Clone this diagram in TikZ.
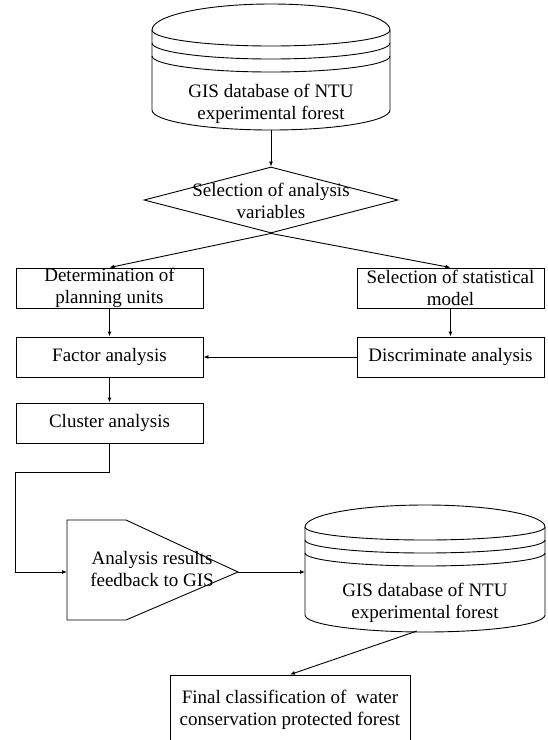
\documentclass[tikz,border=0pt]{standalone}
\usepackage{fontspec}
\setmainfont{Liberation Serif}
\usetikzlibrary{arrows.meta,shapes.geometric}

\begin{document}
\begin{tikzpicture}[x=1pt, y=-1pt, line width=0.9pt,
    font=\fontsize{19pt}{22pt}\selectfont,
    >={Latex[length=5pt,width=4pt]},
    stagebox/.style={draw, minimum width=187pt, minimum height=40pt, inner sep=0pt, align=center},
    txt/.style={align=center, inner sep=0pt}]
    \useasboundingbox (0,0) rectangle (548,740);

    % upper database
    \draw (152,30) arc[start angle=180, end angle=0, x radius=119pt, y radius=26pt] -- (390,110)
        arc[start angle=0, end angle=-180, x radius=119pt, y radius=20pt] -- cycle;
    \draw (152,30) arc[start angle=180, end angle=360, x radius=119pt, y radius=16pt];
    \draw (152,43) arc[start angle=180, end angle=360, x radius=119pt, y radius=16pt];
    \draw (152,56) arc[start angle=180, end angle=360, x radius=119pt, y radius=16pt];
    \node[txt] (gisA) at (271,104) {GIS database of NTU\\experimental forest};
    \coordinate (gisAbot) at (271,130);

    \node[diamond, draw, minimum width=254pt, minimum height=66pt, inner sep=0pt] (sel) at (271,200) {};
    \node[txt] (selText) at (271,201) {Selection of analysis\\variables};

    \node[stagebox] (plan) at (109.5,288) {Determination of\\planning units};
    \node[stagebox] (model) at (450.5,288) {Selection of statistical\\model};
    \node[stagebox] (factor) at (109.5,357) {Factor analysis};
    \node[stagebox] (disc) at (450.5,357) {Discriminate analysis};
    \node[stagebox] (clus) at (109.5,423) {Cluster analysis};

    % feedback
    \draw (67,520) -- (126,520) -- (238,572) -- (126,620) -- (67,620) -- cycle;
    \node[txt] (fb) at (152,569) {Analysis results\\feedback to GIS};
    \coordinate (fbin) at (67,572);
    \coordinate (fbout) at (238,572);
    \coordinate (bend) at (15,472);

    % lower database
    \draw (305,527) arc[start angle=180, end angle=0, x radius=120pt, y radius=22pt] -- (545,615)
        arc[start angle=0, end angle=-180, x radius=120pt, y radius=17pt] -- cycle;
    \draw (305,527) arc[start angle=180, end angle=360, x radius=120pt, y radius=13pt];
    \draw (305,540) arc[start angle=180, end angle=360, x radius=120pt, y radius=13pt];
    \draw (305,553) arc[start angle=180, end angle=360, x radius=120pt, y radius=13pt];
    \node[txt] (gisB) at (425,603) {GIS database of NTU\\experimental forest};
    \coordinate (gisBin) at (305,572);
    \coordinate (gisBbot) at (417,631);

    \node[draw, minimum width=240pt, minimum height=70pt, inner sep=0pt, align=center] (final) at (290,710)
        {Final classification of~ water\\conservation protected forest};

    \draw[->] (gisAbot) -- (sel.north);
    \draw[->] (sel.south) -- (plan.north);
    \draw[->] (sel.south) -- (model.north);
    \draw[->] (plan) -- (factor);
    \draw[->] (model) -- (disc);
    \draw[->] (disc) -- (factor);
    \draw[->] (factor) -- (clus);
    \draw[->] (clus.south) |- (bend) |- (fbin);
    \draw[->] (fbout) -- (gisBin);
    \draw[->] (gisBbot) -- (final.north);
\end{tikzpicture}
\end{document}
